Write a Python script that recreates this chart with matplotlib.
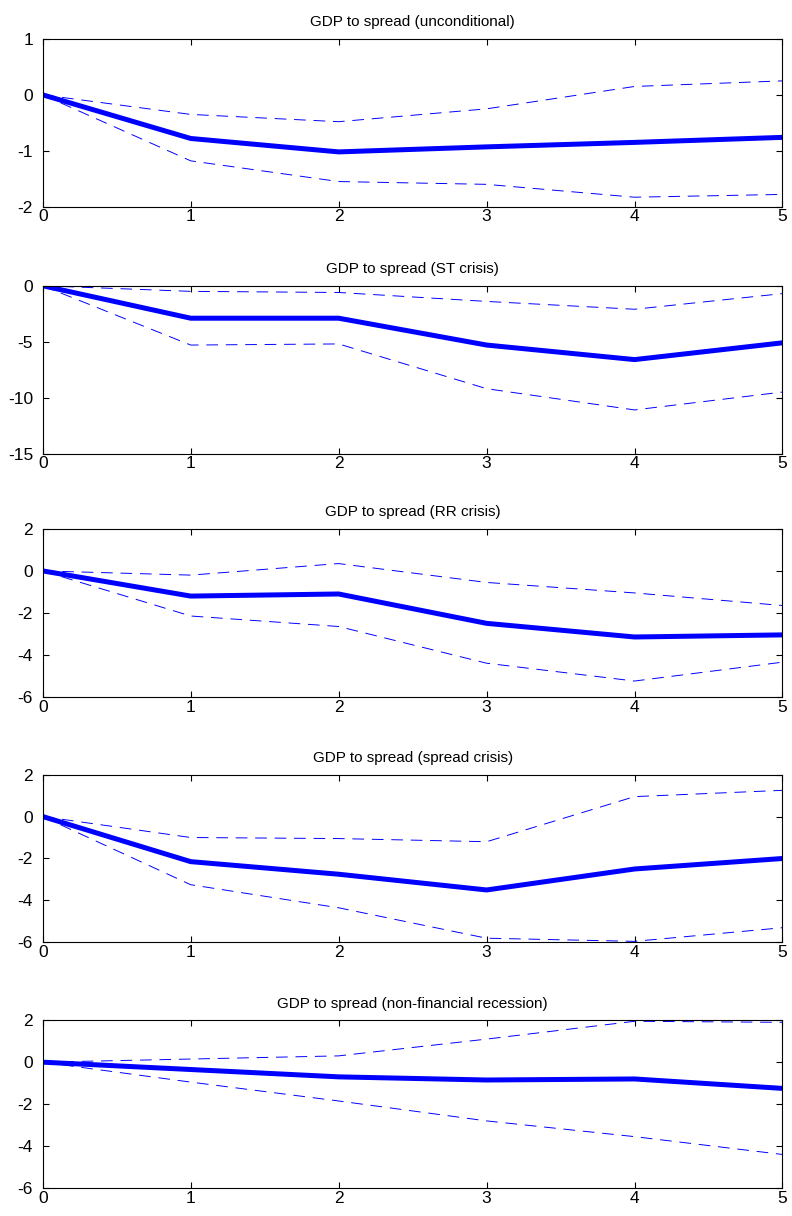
from matplotlib import pyplot as plt
import matplotlib
matplotlib.use('Agg')

plt.rcParams['font.family'] = ['Liberation Sans', 'DejaVu Sans']
plt.rcParams['axes.unicode_minus'] = False

horizon = [0, 1, 2, 3, 4, 5]

titles = ['GDP to spread (unconditional)',
          'GDP to spread (ST crisis)',
          'GDP to spread (RR crisis)',
          'GDP to spread (spread crisis)',
          'GDP to spread (non-financial recession)']

irf_mean = [[0, -0.78, -1.02, -0.93, -0.85, -0.76],
            [0, -2.9, -2.9, -5.3, -6.6, -5.1],
            [0, -1.2, -1.1, -2.5, -3.15, -3.05],
            [0, -2.15, -2.75, -3.5, -2.5, -2.0],
            [0, -0.35, -0.7, -0.85, -0.8, -1.25]]

irf_upper = [[0, -0.35, -0.48, -0.25, 0.15, 0.25],
             [0, -0.5, -0.6, -1.4, -2.1, -0.7],
             [0, -0.2, 0.35, -0.55, -1.05, -1.65],
             [0, -1.0, -1.05, -1.2, 0.95, 1.25],
             [0, 0.15, 0.3, 1.1, 1.95, 1.9]]

irf_lower = [[0, -1.18, -1.55, -1.6, -1.83, -1.78],
             [0, -5.3, -5.2, -9.2, -11.1, -9.5],
             [0, -2.15, -2.65, -4.4, -5.25, -4.35],
             [0, -3.25, -4.35, -5.8, -5.95, -5.3],
             [0, -0.95, -1.85, -2.8, -3.55, -4.4]]

y_limits = [(-2, 1), (-15, 0), (-6, 2), (-6, 2), (-6, 2)]
y_ticks = [[-2, -1, 0, 1], [-15, -10, -5, 0], [-6, -4, -2, 0, 2],
           [-6, -4, -2, 0, 2], [-6, -4, -2, 0, 2]]

fig = plt.figure(figsize=(7.92, 12.16), dpi=100)

bottoms = [0.830, 0.627, 0.427, 0.225, 0.023]
for i in range(5):
    ax = fig.add_axes([0.054, bottoms[i], 0.934, 0.138])
    ax.plot(horizon, irf_mean[i], color='#0000ff', linewidth=3.6)
    ax.plot(horizon, irf_upper[i], color='#0000ff', linewidth=0.7, dashes=(12, 8))
    ax.plot(horizon, irf_lower[i], color='#0000ff', linewidth=0.7, dashes=(12, 8))
    ax.set_xlim(0, 5)
    ax.set_ylim(*y_limits[i])
    ax.set_xticks(horizon)
    ax.set_yticks(y_ticks[i])
    ax.tick_params(direction='in', top=True, right=True, labelsize=12.5, length=4)
    ax.tick_params(axis='x', pad=2)
    ax.tick_params(axis='y', pad=7)
    ax.set_title(titles[i], fontsize=11, pad=9)

fig.savefig('out.png', dpi=100)
